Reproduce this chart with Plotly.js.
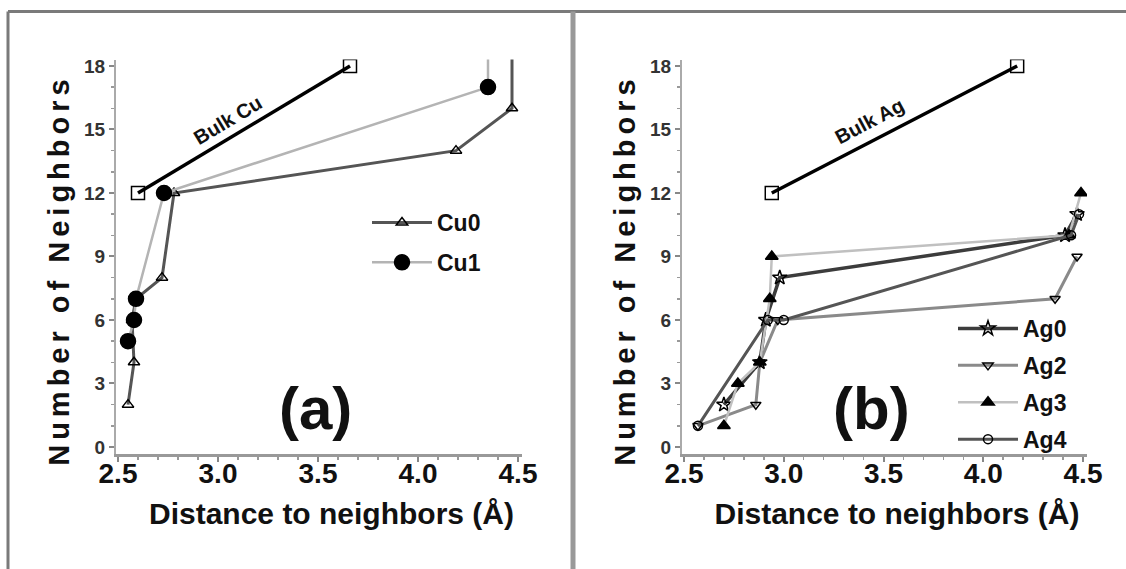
<!DOCTYPE html>
<html>
<head>
<meta charset="utf-8">
<script src="https://cdn.plot.ly/plotly-3.0.1.min.js"></script>
<style>html,body{margin:0;padding:0;background:#fff;}#chart{width:1126px;height:569px;}</style>
</head>
<body>
<div id="chart"></div>
<script>
// ---- Panel (a): Cu ----
const bulkCuDist = [2.60, 3.66];
const bulkCuN    = [12, 18];
const cu0Dist = [2.55, 2.58, 2.57, 2.59, 2.72, 2.78, 4.19, 4.47, 4.47];
const cu0N    = [2, 4, 6, 7, 8, 12, 14, 16, 19];
const cu1Dist = [2.55, 2.58, 2.59, 2.73, 4.35, 4.35];
const cu1N    = [5, 6, 7, 12, 17, 19];
// ---- Panel (b): Ag ----
const bulkAgDist = [2.94, 4.17];
const bulkAgN    = [12, 18];
const ag0Dist = [2.70, 2.88, 2.91, 2.98, 4.41, 4.47];
const ag0N    = [2, 4, 6, 8, 10, 11];
const ag2Dist = [2.57, 2.86, 2.88, 2.97, 4.36, 4.47];
const ag2N    = [1, 2, 4, 6, 7, 9];
const ag3Dist = [2.70, 2.77, 2.88, 2.93, 2.94, 4.43, 4.49];
const ag3N    = [1, 3, 4, 7, 9, 10, 12];
const ag4Dist = [2.57, 2.92, 3.00, 4.44, 4.48];
const ag4N    = [1, 6, 6, 10, 11];

const xTicks = [2.5, 3.0, 3.5, 4.0, 4.5];
const yTicks = [0, 3, 6, 9, 12, 15, 18];
const xTitle = "Distance to neighbors (Å)";
const yTitle = "Number of Neighbors";
const bulkCuLabel = "Bulk Cu";
const bulkAgLabel = "Bulk Ag";

const FONT = "Liberation Sans, Arial, sans-serif";
const W = 1126, H = 569;
const px = v => v / W;
const py = v => 1 - v / H;
const XRANGE = [2.49, 4.52];

function tr(x, y, name, xa, ya, lineColor, lineWidth, symbol, size, legend, show) {
  return {
    x: x, y: y, name: name, xaxis: xa, yaxis: ya, type: 'scatter', mode: 'lines+markers',
    line: {color: lineColor, width: lineWidth},
    marker: {symbol: symbol, size: size, color: '#000', line: {color: '#000', width: 1.5}},
    legend: legend, legendgroup: name, showlegend: show
  };
}

const data = [
  tr(bulkCuDist, bulkCuN, bulkCuLabel, 'x', 'y', '#000', 3.5, 'square-open', 13, 'legend', false),
  tr(cu0Dist, cu0N, 'Cu0', 'x', 'y', '#555', 3, 'triangle-up-open', 10, 'legend', true),
  tr(cu1Dist, cu1N, 'Cu1', 'x', 'y', '#b4b4b4', 2.5, 'circle', 15, 'legend', true),
  tr(bulkAgDist, bulkAgN, bulkAgLabel, 'x2', 'y2', '#000', 3.5, 'square-open', 13, 'legend2', false),
  tr(ag0Dist, ag0N, 'Ag0', 'x2', 'y2', '#3c3c3c', 3.5, 'star-open', 11, 'legend2', true),
  tr(ag2Dist, ag2N, 'Ag2', 'x2', 'y2', '#8a8a8a', 3, 'triangle-down-open', 9, 'legend2', true),
  tr(ag3Dist, ag3N, 'Ag3', 'x2', 'y2', '#c0c0c0', 2.5, 'triangle-up', 11, 'legend2', true),
  tr(ag4Dist, ag4N, 'Ag4', 'x2', 'y2', '#555', 3, 'circle-open', 9, 'legend2', true),
  // empty traces that register the tick-label axes
  {x: [], y: [], xaxis: 'x3', yaxis: 'y', type: 'scatter', mode: 'markers', showlegend: false, hoverinfo: 'skip'},
  {x: [], y: [], xaxis: 'x4', yaxis: 'y2', type: 'scatter', mode: 'markers', showlegend: false, hoverinfo: 'skip'}
];

function xax(domain, anchor) {
  return {
    domain: domain, range: XRANGE, anchor: anchor, tickvals: xTicks, showticklabels: false,
    ticks: 'outside', ticklen: 5, tickwidth: 2, tickcolor: '#888',
    minor: {dtick: 0.1, ticks: 'outside', ticklen: 3, tickcolor: '#999', tickwidth: 1.5},
    showline: true, linecolor: '#999', linewidth: 3, showgrid: false, zeroline: false,
    title: {text: '&nbsp;&nbsp;&nbsp;' + xTitle, font: {family: FONT, size: 30, color: '#111', weight: 'bold'}, standoff: 42},
    fixedrange: true
  };
}
function xlab(domain, overlay) {
  return {
    domain: domain, range: XRANGE, overlaying: overlay, anchor: 'free', position: py(454),
    tickvals: xTicks, ticktext: xTicks.map(v => v.toFixed(1)), ticks: '', showline: false,
    showgrid: false, zeroline: false,
    tickfont: {family: FONT, size: 28, color: '#111', weight: 'bold'}, fixedrange: true
  };
}
function yax(domain, anchor) {
  return {
    domain: domain, range: [-0.35, 18.3], anchor: anchor, tickvals: yTicks,
    ticks: 'outside', ticklen: 5, tickwidth: 2, tickcolor: '#888',
    minor: {dtick: 1, ticks: 'outside', ticklen: 3, tickcolor: '#999', tickwidth: 1.5},
    showline: true, linecolor: '#aaa', linewidth: 2, showgrid: false, zeroline: false,
    tickfont: {family: FONT, size: 19, color: '#333', weight: 'bold'},
    title: {text: '<span style="letter-spacing:5px">' + yTitle + '&nbsp;&nbsp;</span>',
            font: {family: FONT, size: 29, color: '#111', weight: 'bold'}, standoff: 6},
    fixedrange: true
  };
}

const yDom = [py(454.4), py(59.6)];
const domA = [px(116), px(522)];
const domB = [px(682), px(1087)];

const layout = {
  width: W, height: H, margin: {l: 0, r: 0, t: 0, b: 0},
  paper_bgcolor: '#fff', plot_bgcolor: 'rgba(0,0,0,0)',
  xaxis: xax(domA, 'y'),
  yaxis: yax(yDom, 'x'),
  xaxis2: xax(domB, 'y2'),
  yaxis2: yax(yDom, 'x2'),
  xaxis3: xlab(domA, 'x'),
  xaxis4: xlab(domB, 'x2'),
  legend: {x: px(367), y: py(201), xanchor: 'left', yanchor: 'top', bgcolor: 'rgba(0,0,0,0)',
           font: {family: FONT, size: 23, color: '#111', weight: 'bold'}, itemwidth: 60,
           tracegroupgap: 7, traceorder: 'grouped'},
  legend2: {x: px(953), y: py(307), xanchor: 'left', yanchor: 'top', bgcolor: 'rgba(0,0,0,0)',
           font: {family: FONT, size: 23, color: '#111', weight: 'bold'}, itemwidth: 60,
           tracegroupgap: 4, traceorder: 'grouped'},
  annotations: [
    {xref: 'x', yref: 'y', x: 3.05, y: 15.45, text: bulkCuLabel, showarrow: false, textangle: -31,
     font: {family: FONT, size: 20, color: '#111', weight: 'bold'}},
    {xref: 'x2', yref: 'y2', x: 3.43, y: 15.4, text: bulkAgLabel, showarrow: false, textangle: -28,
     font: {family: FONT, size: 20, color: '#111', weight: 'bold'}},
    {xref: 'x', yref: 'y', x: 3.485, y: 1.8, text: '(a)', showarrow: false,
     font: {family: FONT, size: 60, color: '#111', weight: 'bold'}},
    {xref: 'x2', yref: 'y2', x: 3.44, y: 1.8, text: '(b)', showarrow: false,
     font: {family: FONT, size: 60, color: '#111', weight: 'bold'}}
  ],
  shapes: [
    {type: 'line', xref: 'paper', yref: 'paper', x0: px(8), x1: 1, y0: py(11.5), y1: py(11.5), line: {color: '#7a7a7a', width: 3}},
    {type: 'line', xref: 'paper', yref: 'paper', x0: px(8), x1: px(8), y0: 0, y1: py(11.5), line: {color: '#7a7a7a', width: 3}},
    {type: 'line', xref: 'paper', yref: 'paper', x0: px(573), x1: px(573), y0: 0, y1: py(11.5), line: {color: '#999', width: 5}}
  ]
};

Plotly.newPlot('chart', data, layout, {displayModeBar: false, staticPlot: true});
</script>
</body>
</html>
